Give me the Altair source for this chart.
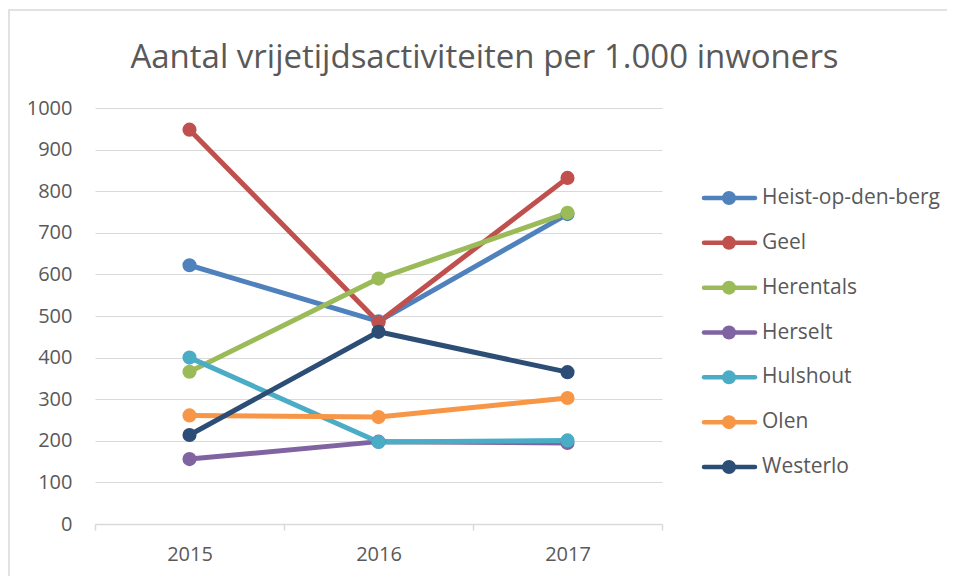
import altair as alt
import pandas as pd

years = ["2015", "2016", "2017"]
gemeenten = ["Heist-op-den-berg", "Geel", "Herentals", "Herselt", "Hulshout", "Olen", "Westerlo"]
heist = [622, 487, 745]
geel = [948, 485, 832]
herentals = [366, 590, 748]
herselt = [156, 198, 195]
hulshout = [400, 197, 201]
olen = [261, 257, 303]
westerlo = [214, 462, 365]
kleuren = ["#4F81BD", "#C0504D", "#9BBB59", "#8064A2", "#4BACC6", "#F79646", "#2C4D75"]
y_ticks = list(range(0, 1001, 100))

reeksen = [heist, geel, herentals, herselt, hulshout, olen, westerlo]
rows = []
for i, (naam, vals) in enumerate(zip(gemeenten, reeksen)):
    for jaar, v in zip(years, vals):
        rows.append({"gemeente": naam, "jaar": jaar, "waarde": v, "volgorde": i})
df = pd.DataFrame(rows)
legend_df = pd.DataFrame({"gemeente": gemeenten, "volgorde": list(range(len(gemeenten)))})

TXT = "#595959"
GRID = "#d9d9d9"
FONT = "Open Sans"

x_enc = alt.X(
    "jaar:N",
    sort=years,
    scale=alt.Scale(type="band", paddingInner=0, paddingOuter=0),
    axis=alt.Axis(title=None, labelAngle=0, domainColor=GRID, domainWidth=1.5,
                  tickColor=GRID, tickWidth=1.5, tickSize=6, tickBand="extent",
                  labelColor=TXT, labelFontSize=20, labelFont=FONT,
                  labelPadding=14, grid=False),
    bandPosition=0.5,
)
y_enc = alt.Y(
    "waarde:Q",
    scale=alt.Scale(domain=[0, 1000], nice=False),
    axis=alt.Axis(title=None, values=y_ticks, format="d", domain=False, ticks=False,
                  gridColor=GRID, gridWidth=1.2, labelColor=TXT,
                  labelFontSize=20, labelFont=FONT, labelPadding=23),
)
kleur = alt.Color("gemeente:N", scale=alt.Scale(domain=gemeenten, range=kleuren),
                  sort=gemeenten, legend=None)

lines = alt.Chart(df).mark_line(strokeWidth=5, strokeCap="round", strokeJoin="round").encode(
    x=x_enc, y=y_enc,
    stroke=alt.Stroke("gemeente:N", scale=alt.Scale(domain=gemeenten, range=kleuren),
                      sort=gemeenten, legend=None),
    order="volgorde:Q",
)
points = alt.Chart(df).mark_point(filled=True, size=200, opacity=1, shape="circle").encode(
    x=x_enc, y=y_enc, color=kleur, order="volgorde:Q",
)
plot = alt.layer(lines, points)

# legend (line + marker + label per municipality), positioned by a point scale
ly = alt.Y("gemeente:N", sort=gemeenten,
           scale=alt.Scale(type="point", domain=gemeenten, range=[90, 359], padding=0),
           axis=None)
leg_line = alt.Chart(legend_df).mark_rule(strokeWidth=4.5, strokeCap="round").encode(
    x=alt.value(609), x2=alt.value(660), y=ly, color=kleur,
)
leg_dot = alt.Chart(legend_df).mark_point(filled=True, size=196, opacity=1, shape="circle").encode(
    x=alt.value(634), y=ly, color=kleur,
)
leg_text = alt.Chart(legend_df).mark_text(
    align="left", baseline="middle", font=FONT, fontSize=21, color=TXT
).encode(x=alt.value(667), y=ly, text="gemeente:N")
legend = alt.layer(leg_line, leg_dot, leg_text)

frame = alt.Chart(pd.DataFrame({"k": [0]})).mark_rect(
    fill=None, stroke=GRID, strokeWidth=1.5
).encode(
    x=alt.value(-86), x2=alt.value(1000), y=alt.value(-98), y2=alt.value(700)
)

chart = alt.layer(frame, plot, legend).resolve_scale(y="independent").properties(
    width=567, height=416,
    autosize=alt.AutoSizeParams(type="none"),
    padding={"left": 87, "top": 100, "right": 285, "bottom": 52},
    title=alt.TitleParams(
        "Aantal vrijetijdsactiviteiten per 1.000 inwoners",
        font=FONT, fontSize=33, fontWeight="normal", color=TXT,
        anchor="middle", frame="group", dx=106, dy=96, baseline="alphabetic",
    ),
).configure_view(stroke=None)

chart.save("out.html", embed_options={"renderer": "svg", "actions": False})
